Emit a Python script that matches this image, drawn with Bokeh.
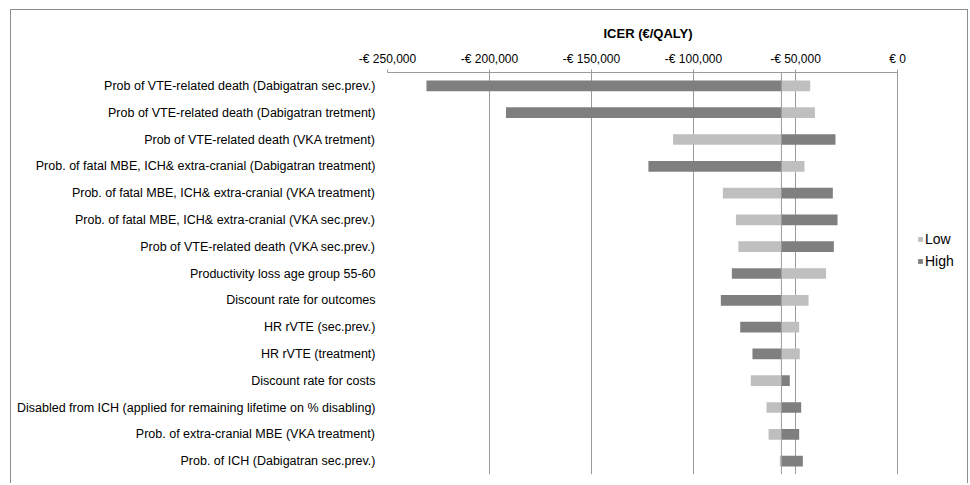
from bokeh.plotting import figure
from bokeh.models import FactorRange, FixedTicker, Span, Legend
from bokeh.embed import file_html
from bokeh.resources import INLINE

categories = [
    "Prob of VTE-related death (Dabigatran sec.prev.)",
    "Prob of VTE-related death (Dabigatran tretment)",
    "Prob of VTE-related death (VKA tretment)",
    "Prob. of fatal MBE, ICH& extra-cranial (Dabigatran treatment)",
    "Prob. of fatal MBE, ICH& extra-cranial (VKA treatment)",
    "Prob. of fatal MBE, ICH& extra-cranial (VKA sec.prev.)",
    "Prob of VTE-related death (VKA sec.prev.)",
    "Productivity loss age group 55-60",
    "Discount rate for outcomes",
    "HR rVTE (sec.prev.)",
    "HR rVTE (treatment)",
    "Discount rate for costs",
    "Disabled from ICH (applied for remaining lifetime on % disabling)",
    "Prob. of extra-cranial MBE (VKA treatment)",
    "Prob. of ICH (Dabigatran sec.prev.)",
]
low_values = [-42800, -40500, -110000, -45600, -85600, -79200, -78000,
              -35000, -43600, -48200, -47900, -71900, -64200, -63200, -57700]
high_values = [-230900, -191900, -30400, -122100, -31700, -29400, -31200,
               -81200, -86600, -77100, -71100, -52800, -47200, -48200, -46400]
base_value = -56900
tick_values = [-250000, -200000, -150000, -100000, -50000, 0]
tick_labels = ["-€ 250,000", "-€ 200,000", "-€ 150,000", "-€ 100,000", "-€ 50,000", "€ 0"]
axis_title = "ICER (€/QALY)"

FONT = "Liberation Sans"
GRID = "#9a9a9a"

# layout in pixels
W, H = 958, 474
LEFT, TOP, BOTTOM = 376, 62, 10
AXIS_PX = 510  # pixel width of the -250k..0 span
frame_w = W - LEFT
x_start, x_stop = tick_values[0], tick_values[-1]
x_end = x_stop + (frame_w - AXIS_PX) / AXIS_PX * (x_stop - x_start)

p = figure(width=W, height=H, output_backend="svg", toolbar_location=None,
           y_range=FactorRange(factors=list(reversed(categories))),
           x_range=(x_start, x_end), x_axis_location="above",
           min_border_left=LEFT, min_border_right=0, min_border_top=TOP,
           min_border_bottom=BOTTOM)
p.styles = {"margin-left": "10px", "margin-top": "9px",
            "border-left": "1px solid #8c8c8c", "border-top": "1px solid #8c8c8c",
            "border-right": "1px solid #8c8c8c"}
p.outline_line_color = None

p.title.text = axis_title
p.title.align = "left"
p.title.offset = 216
p.title.standoff = 11
p.title.vertical_align = "top"
p.title.text_font = FONT
p.title.text_font_style = "bold"
p.title.text_font_size = "13px"
p.title.text_color = "#000000"

bases = [base_value] * len(categories)
r_low = p.hbar(y=categories, left=bases, right=low_values, height=0.4,
               fill_color="#bfbfbf", line_color=None)
r_high = p.hbar(y=categories, left=bases, right=high_values, height=0.4,
                fill_color="#7f7f7f", line_color=None)

p.add_layout(Span(location=base_value, dimension="height", line_color=GRID, line_width=1))

xa = p.xaxis[0]
xa.ticker = FixedTicker(ticks=tick_values)
xa.bounds = (x_start, x_stop)
xa.major_label_overrides = {v: l for v, l in zip(tick_values, tick_labels)}
xa.major_label_text_font = FONT
xa.major_label_text_font_size = "12px"
xa.major_label_text_color = "#000000"
xa.major_label_standoff = 4
xa.axis_line_color = GRID
xa.major_tick_line_color = GRID
xa.major_tick_out = 3
xa.major_tick_in = 0
xa.minor_tick_line_color = None

ya = p.yaxis[0]
ya.axis_line_color = None
ya.major_tick_line_color = None
ya.minor_tick_line_color = None
ya.major_tick_out = 0
ya.major_tick_in = 0
ya.major_label_standoff = 12
ya.major_label_text_font = FONT
ya.major_label_text_font_size = "12.5px"
ya.major_label_text_color = "#000000"

p.xgrid.ticker = FixedTicker(ticks=tick_values)
p.xgrid.grid_line_color = GRID
p.ygrid.grid_line_color = None

legend = Legend(items=[("Low", [r_low]), ("High", [r_high])], location=(530, 205))
legend.glyph_width = 6
legend.glyph_height = 6
legend.label_standoff = 2
legend.label_height = 16
legend.spacing = 6
legend.padding = 0
legend.margin = 0
legend.border_line_color = None
legend.background_fill_alpha = 0
legend.label_text_font = FONT
legend.label_text_font_size = "14px"
legend.label_text_color = "#000000"
p.add_layout(legend, "center")

open("out.html", "w").write(file_html(p, INLINE))
